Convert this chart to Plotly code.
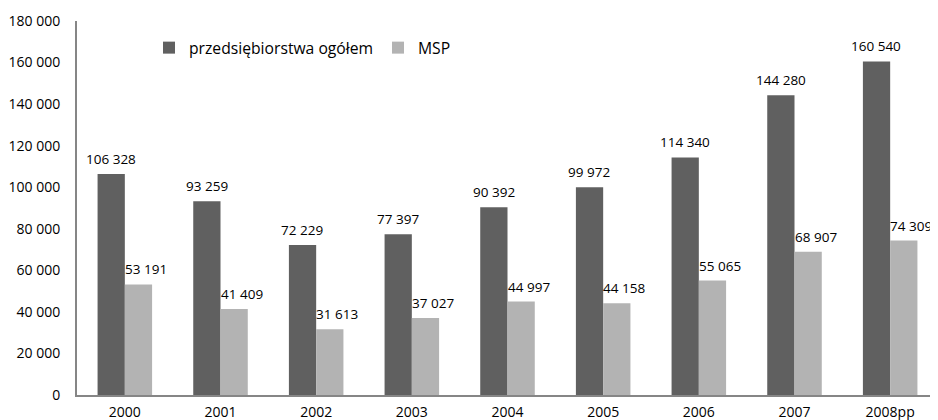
import plotly.graph_objects as go

categories = ["2000", "2001", "2002", "2003", "2004", "2005", "2006", "2007", "2008pp"]
total = [106328, 93259, 72229, 77397, 90392, 99972, 114340, 144280, 160540]
msp = [53191, 41409, 31613, 37027, 44997, 44158, 55065, 68907, 74309]
y_ticks = [0, 20000, 40000, 60000, 80000, 100000, 120000, 140000, 160000, 180000]

font_family = "'Open Sans', sans-serif"


def fmt(v):
    return f"{v:,}".replace(",", " ")


fig = go.Figure()
fig.add_trace(go.Bar(
    x=categories, y=total, name="przedsiębiorstwa ogółem",
    marker=dict(color="#606060", line=dict(width=0)),
))
fig.add_trace(go.Bar(
    x=categories, y=msp, name="MSP",
    marker=dict(color="#b3b3b3", line=dict(width=0)),
))

# data labels (x given as category index): dark centred, light nudged right
annotations = []
for i, v in enumerate(total):
    annotations.append(dict(
        x=i, y=v, text=fmt(v), showarrow=False, xref="x", yref="y",
        xanchor="center", yanchor="bottom", xshift=-14, yshift=4,
        font=dict(size=13.5, color="#000000", family=font_family),
    ))
for i, v in enumerate(msp):
    annotations.append(dict(
        x=i, y=v, text=fmt(v), showarrow=False, xref="x", yref="y",
        xanchor="center", yanchor="bottom", xshift=21, yshift=4,
        font=dict(size=13.5, color="#000000", family=font_family),
    ))

# page body has an 8px default margin; figure is sized/offset to compensate
fig.update_layout(
    width=930, height=412,
    margin=dict(l=69, r=0, t=13, b=25, autoexpand=False),
    paper_bgcolor="white", plot_bgcolor="white",
    separators=", ",
    barmode="group", bargap=0.43, bargroupgap=0,
    font=dict(family=font_family, size=14, color="#000000"),
    showlegend=True,
    annotations=annotations,
    legend=dict(
        orientation="h", x=0.0836, y=0.928, xanchor="left", yanchor="middle",
        font=dict(size=15.7, family=font_family), bgcolor="rgba(0,0,0,0)",
        itemwidth=30, tracegroupgap=0,
        entrywidth=184, entrywidthmode="pixels",
    ),
    xaxis=dict(
        type="category", categoryorder="array", categoryarray=categories,
        range=[-0.5, len(categories) - 0.5], automargin=False,
        showline=True, linecolor="#868686", linewidth=2,
        ticks="", showgrid=False, zeroline=False,
        tickfont=dict(size=14), ticklabelstandoff=3,
    ),
    yaxis=dict(
        range=[0, 180000], tickvals=y_ticks, tickformat=",d", automargin=False,
        showline=True, linecolor="#868686", linewidth=2,
        ticks="", showgrid=False, zeroline=False,
        tickfont=dict(size=14), ticklabelstandoff=12,
    ),
)

fig.write_html("out.html")
